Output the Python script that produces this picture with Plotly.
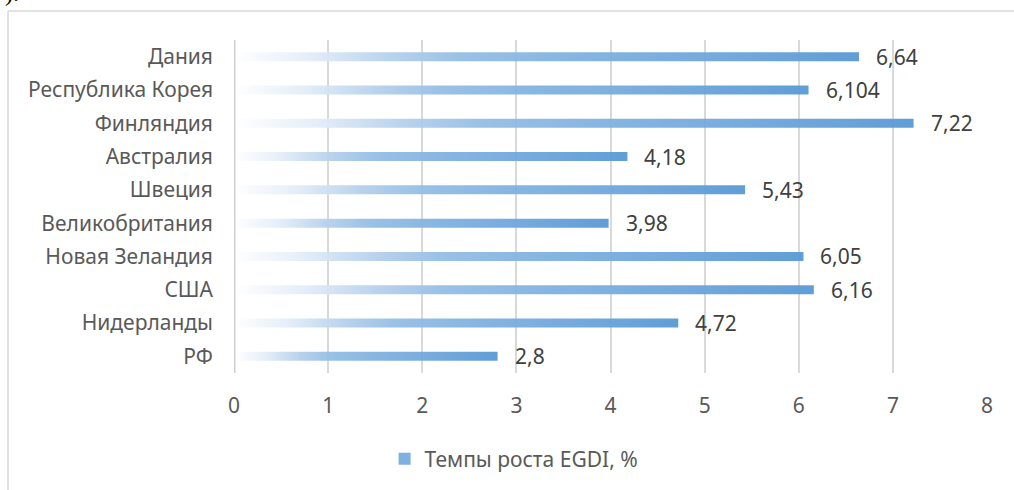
import plotly.graph_objects as go

# data (top to bottom as in the picture)
countries = ["Дания", "Республика Корея", "Финляндия", "Австралия", "Швеция",
             "Великобритания", "Новая Зеландия", "США", "Нидерланды", "РФ"]
growth = [6.64, 6.104, 7.22, 4.18, 5.43, 3.98, 6.05, 6.16, 4.72, 2.8]
x_ticks = [0, 1, 2, 3, 4, 5, 6, 7, 8]
series_name = "Темпы роста EGDI, %"

# pixel layout of the chart
W, H = 1014, 490
L, R, T, B = 234, 27, 40, 117
PW, PH = W - L - R, H - T - B
FONT = "Noto Sans"
FS = 21

def px_x(p):
    return (p - L) / PW

def px_y(p):
    return (H - B - p) / PH

grad = [[0.0, "rgba(255,255,255,0.95)"], [0.12, "rgba(227,237,248,0.95)"],
        [0.25, "rgba(181,208,236,0.95)"], [0.36, "rgba(149,190,229,0.95)"],
        [0.55, "rgba(127,177,224,0.95)"], [0.72, "rgba(114,168,221,0.95)"],
        [1.0, "rgba(91,155,213,0.97)"]]

half = 0.135
n = len(countries)
fig = go.Figure()

for i, (name, v) in enumerate(zip(countries, growth)):
    yc = n - 1 - i
    fig.add_trace(go.Scatter(
        x=[0, v, v, 0, 0],
        y=[yc - half, yc - half, yc + half, yc + half, yc - half],
        mode="lines", line=dict(width=0), fill="toself",
        fillgradient=dict(type="horizontal", colorscale=grad),
        hoverinfo="skip", showlegend=False,
    ))
    fig.add_annotation(x=v, y=yc, text=str(v).replace(".", ","),
                       xanchor="left", yanchor="middle", xshift=15, showarrow=False,
                       font=dict(family=FONT, size=FS, color="#404040"))

# legend entry
fig.add_trace(go.Bar(x=[None], y=[None], orientation="h", name=series_name,
                     marker=dict(color="#7FB1E0", line=dict(width=0))))

fig.update_layout(
    width=W, height=H,
    margin=dict(l=L, r=R, t=T, b=B),
    paper_bgcolor="white", plot_bgcolor="white",
    font=dict(family=FONT, size=FS, color="#595959"),
    xaxis=dict(range=[0, 8], tickvals=x_ticks, ticktext=[str(t) for t in x_ticks],
               showgrid=True, gridcolor="#D9D9D9", gridwidth=1.5,
               zeroline=False, showline=False, ticks="", ticklabelstandoff=18,
               fixedrange=True),
    yaxis=dict(range=[-0.5, n - 0.5], tickvals=list(range(n)),
               ticktext=countries[::-1], showgrid=False, zeroline=False,
               showline=False, ticks="", ticklabelstandoff=20, fixedrange=True),
    showlegend=True,
    legend=dict(orientation="h", x=0.507, xanchor="center", xref="container",
                y=1 - 459 / H, yanchor="middle", yref="container",
                font=dict(size=FS, color="#595959"), itemwidth=30),
    shapes=[
        # axis line at zero
        dict(type="line", xref="x", yref="paper", x0=0, x1=0, y0=0, y1=1,
             line=dict(color="#D0D0D0", width=3)),
        # chart frame
        dict(type="line", xref="paper", yref="paper", x0=px_x(8), x1=px_x(1030),
             y0=px_y(11), y1=px_y(11), line=dict(color="#D9D9D9", width=1.5)),
        dict(type="line", xref="paper", yref="paper", x0=px_x(8), x1=px_x(8),
             y0=px_y(11), y1=px_y(500), line=dict(color="#D9D9D9", width=1.5)),
    ],
)

# fragment of the document text above the chart
fig.add_annotation(x=px_x(21), y=px_y(8), xref="paper", yref="paper",
                   text=").", xanchor="right", yanchor="bottom", showarrow=False,
                   font=dict(family="Liberation Serif", size=24, color="black"))

fig.write_html("out.html", config={"displayModeBar": False},
               post_script="document.body.style.margin='0';")
